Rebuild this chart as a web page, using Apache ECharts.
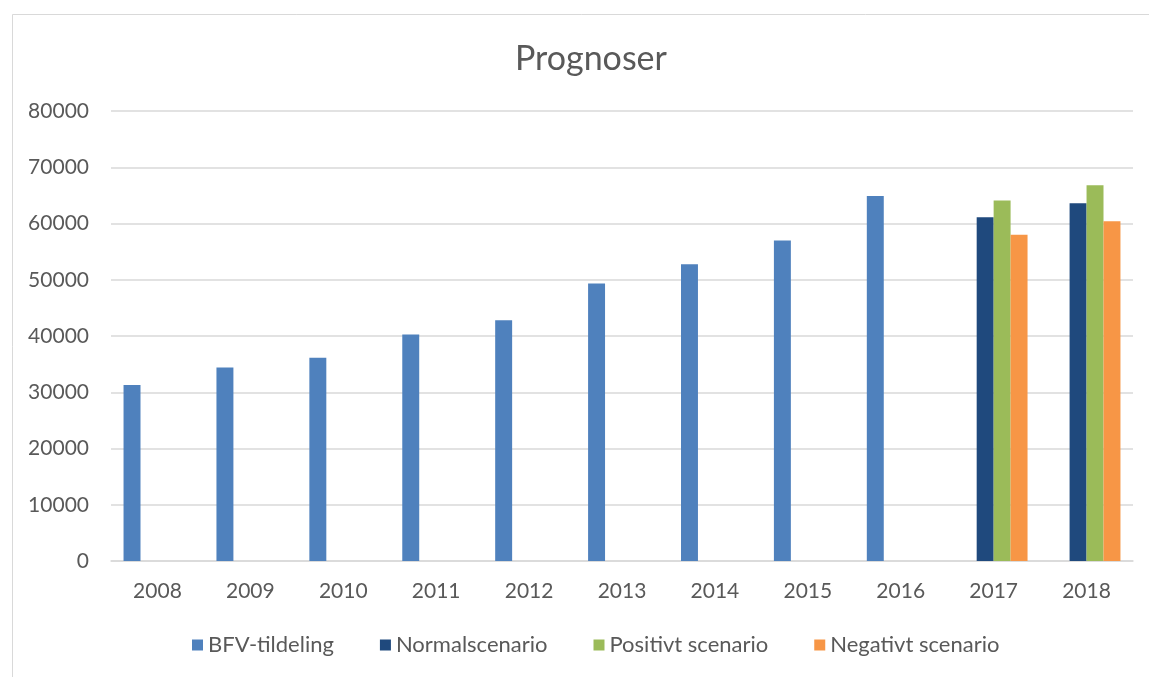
<!DOCTYPE html>
<html>
<head>
<meta charset="utf-8">
<script src="https://cdn.jsdelivr.net/npm/echarts@6/dist/echarts.min.js"></script>
<style>
  html, body { margin: 0; padding: 0; background: #fff; }
  #chart { width: 1149px; height: 677px; }
</style>
</head>
<body>
<div id="chart"></div>
<script>
  // data
  var years = ['2008', '2009', '2010', '2011', '2012', '2013', '2014', '2015', '2016', '2017', '2018'];
  var bfv = [31300, 34400, 36150, 40250, 42800, 49330, 52740, 57000, 64900, null, null];
  var normal = [null, null, null, null, null, null, null, null, null, 61100, 63600];
  var positive = [null, null, null, null, null, null, null, null, null, 64100, 66800];
  var negative = [null, null, null, null, null, null, null, null, null, 58000, 60400];
  var yTicks = { min: 0, max: 80000, interval: 10000 };

  var font = 'Lato, "Open Sans", sans-serif';
  var textColor = '#595959';
  var chart = echarts.init(document.getElementById('chart'));

  function bar(name, data, color) {
    return {
      name: name,
      type: 'bar',
      data: data,
      barGap: '0%',
      barCategoryGap: '27%',
      itemStyle: { color: color },
      animation: false
    };
  }

  chart.setOption({
    animation: false,
    backgroundColor: '#fff',
    graphic: [{
      type: 'rect',
      left: 10, top: 12,
      shape: { width: 1160, height: 700 },
      style: { fill: 'none', stroke: '#d9d9d9', lineWidth: 1 },
      silent: true
    }],
    title: {
      text: 'Prognoser',
      left: 510,
      top: 37,
      textStyle: { fontFamily: font, fontSize: 34, fontWeight: 'normal', color: textColor }
    },
    legend: {
      bottom: 16,
      left: 187,
      icon: 'rect',
      itemWidth: 11,
      itemHeight: 11,
      itemGap: 46,
      textStyle: { fontFamily: font, fontSize: 22, color: textColor },
      data: ['BFV-tildeling', 'Normalscenario', 'Positivt scenario', 'Negativt scenario']
    },
    grid: { left: 111, right: 16, top: 111, bottom: 116 },
    xAxis: {
      type: 'category',
      data: years,
      axisLine: { lineStyle: { color: '#d9d9d9', width: 1.5 } },
      axisTick: { show: false },
      axisLabel: { fontFamily: font, fontSize: 21, color: textColor, margin: 20 }
    },
    yAxis: {
      type: 'value',
      min: yTicks.min,
      max: yTicks.max,
      interval: yTicks.interval,
      axisLine: { show: false },
      axisTick: { show: false },
      axisLabel: {
        fontFamily: font, fontSize: 21, color: textColor, margin: 22,
        formatter: function (v) { return String(v); }
      },
      splitLine: { lineStyle: { color: '#d9d9d9', width: 1.5 } }
    },
    series: [
      bar('BFV-tildeling', bfv, '#4f81bd'),
      bar('Normalscenario', normal, '#1f497d'),
      bar('Positivt scenario', positive, '#9bbb59'),
      bar('Negativt scenario', negative, '#f79646')
    ]
  });
</script>
</body>
</html>
